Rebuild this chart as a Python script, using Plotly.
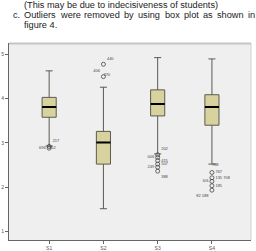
import plotly.graph_objects as go

# ---- data ----
categories = ["S1", "S2", "S3", "S4"]
q1 = [3.58, 2.52, 3.61, 3.40]
median = [3.81, 3.01, 3.88, 3.81]
q3 = [4.03, 3.26, 4.20, 4.09]
lower_whisker = [2.93, 1.51, 2.75, 2.52]
upper_whisker = [4.63, 4.26, 4.93, 4.90]

outlier_cat = ["S1", "S1", "S2", "S2",
               "S3", "S3", "S3", "S3", "S3", "S3",
               "S4", "S4", "S4", "S4", "S4"]
outlier_val = [2.92, 2.88, 4.78, 4.50,
               2.73, 2.67, 2.60, 2.52, 2.45, 2.36,
               2.33, 2.21, 2.13, 2.03, 1.93]
outlier_lbl = ["217", "696", "440", "406",
               "202", "006", "415", "507", "249", "388",
               "767", "135 708", "6/6", "185", "82 188"]
label_pos = ["top right", "middle left", "top right", "top left",
             "top right", "middle left", "middle right", "middle right", "middle left", "bottom right",
             "middle right", "middle right", "middle left", "middle right", "bottom left"]
extra_lbl_cat = ["S1", "S2", "S4"]
extra_lbl_val = [2.88, 4.50, 2.49]
extra_lbl = ["852", "370", "788"]
extra_pos = ["middle right", "top right", "middle right"]

y_ticks = [1, 2, 3, 4, 5]

W, H = 256, 251
fig = go.Figure()

box_w = 0.26
for i, c in enumerate(categories):
    fig.add_trace(go.Box(
        x=[c], q1=[q1[i]], median=[median[i]], q3=[q3[i]],
        lowerfence=[lower_whisker[i]], upperfence=[upper_whisker[i]],
        width=box_w, whiskerwidth=0.5,
        fillcolor="#d8d39e", line=dict(color="#5a5a50", width=1),
        boxpoints=False, showlegend=False, hoverinfo="skip",
    ))

# thicker black median lines
mx, my = [], []
for i, c in enumerate(categories):
    mx += [i - box_w / 2, i + box_w / 2, None]
    my += [median[i], median[i], None]
fig.add_trace(go.Scatter(x=mx, y=my, mode="lines", line=dict(color="black", width=2),
                         xaxis="x2", showlegend=False, hoverinfo="skip"))

# outliers
fig.add_trace(go.Scatter(
    x=outlier_cat, y=outlier_val, mode="markers+text",
    marker=dict(symbol="circle-open", size=4, color="#444", line=dict(width=0.8)),
    text=outlier_lbl, textposition=label_pos,
    textfont=dict(size=4, color="#444", family="Liberation Sans"),
    showlegend=False, hoverinfo="skip", cliponaxis=False,
))
fig.add_trace(go.Scatter(
    x=extra_lbl_cat, y=extra_lbl_val, mode="text",
    text=extra_lbl, textposition=extra_pos,
    textfont=dict(size=4, color="#444", family="Liberation Sans"),
    showlegend=False, hoverinfo="skip", cliponaxis=False,
))

x0, x1 = 9 / W, 251 / W
y0, y1 = (H - 243) / H, (H - 44) / H
xr = [-0.74, 3.72]

fig.update_layout(
    width=W, height=H, margin=dict(l=0, r=0, t=0, b=0),
    paper_bgcolor="white", plot_bgcolor="#efefef",
    xaxis=dict(domain=[x0, x1], type="category", categoryorder="array",
               categoryarray=categories, range=xr,
               showline=True, linecolor="#666", linewidth=1,
               ticks="outside", ticklen=3, tickcolor="#666",
               tickfont=dict(size=5, color="#555", family="Liberation Sans"),
               showgrid=False, zeroline=False),
    xaxis2=dict(domain=[x0, x1], range=xr, overlaying="x", visible=False),
    yaxis=dict(domain=[y0, y1], range=[0.8, 5.25], tickvals=y_ticks,
               showline=True, linecolor="#666", linewidth=1,
               ticks="outside", ticklen=3, tickcolor="#666",
               tickfont=dict(size=5, color="#555", family="Liberation Sans"),
               showgrid=False, zeroline=False),
    font=dict(family="Liberation Sans"),
)

# light frame on top/right
fig.add_shape(type="line", xref="paper", yref="paper", x0=x0, x1=x1, y0=y1, y1=y1,
              line=dict(color="#c4c4c4", width=2))
fig.add_shape(type="line", xref="paper", yref="paper", x0=x1, x1=x1, y0=y0, y1=y1,
              line=dict(color="#d0d0d0", width=1))

# caption text above the chart
FS = 9.2
def ann(txt, x, y, anchor="left"):
    fig.add_annotation(text=txt, xref="paper", yref="paper", x=x / W, y=1 - y / H,
                       xanchor=anchor, yanchor="middle", showarrow=False,
                       font=dict(size=FS, color="#222", family="Liberation Sans"))

ann("(This may be due to indecisiveness of students)", 22, 5)
ann("c.", 11, 15)
ann("figure 4.", 22, 25)

# justified second line: words spread between x=22 and x=253
words = ["Outliers", "were", "removed", "by", "using", "box", "plot", "as", "shown", "in"]
aw = {"O": 778, "u": 556, "t": 278, "l": 222, "i": 222, "e": 556, "r": 333, "s": 500,
      "w": 722, "m": 833, "o": 556, "v": 500, "d": 556, "b": 556, "y": 500, "n": 556,
      "g": 556, "x": 500, "p": 556, "a": 556, "h": 556}
widths = [sum(aw[ch] for ch in w) / 1000 * FS for w in words]
left, right = 22, 253
gap = (right - left - sum(widths)) / (len(words) - 1)
xpos = left
for w, wd in zip(words, widths):
    ann(w, xpos, 15)
    xpos += wd + gap

fig.write_html("out.html")
